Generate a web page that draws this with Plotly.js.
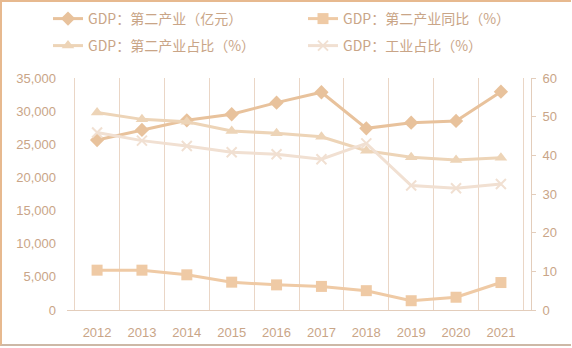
<!DOCTYPE html>
<html><head><meta charset="utf-8">
<script src="https://cdn.plot.ly/plotly-3.0.1.min.js"></script>
<style>
html,body{margin:0;padding:0;background:#fff;}
#wrap{position:relative;width:572px;height:348px;overflow:hidden;}
#frame{position:absolute;left:0;top:0;width:571px;height:346px;border-left:2px solid #E7B98F;border-top:2px solid #E7B98F;border-bottom:2px solid #CDB8A6;pointer-events:none;z-index:5;box-sizing:border-box;}
#chart{width:572px;height:348px;}
</style></head>
<body><div id="wrap"><div id="frame"></div><div id="chart"></div></div>
<script>
const years = ['2012','2013','2014','2015','2016','2017','2018','2019','2020','2021'];
const gdpSecondary = [25650,27160,28620,29530,31280,32850,27410,28260,28520,32940];
const secondaryYoY = [10.3,10.3,9.1,7.2,6.5,6.1,5.0,2.4,3.3,7.1];
const secondaryShare = [51.1,49.3,48.7,46.3,45.7,44.8,41.2,39.5,38.8,39.4];
const industryShare = [45.9,43.8,42.4,40.8,40.3,39.0,43.1,32.2,31.5,32.6];
const names = ['GDP：第二产业（亿元）','GDP：第二产业同比（%）','GDP：第二产业占比（%）','GDP：工业占比（%）'];

const font = 'Liberation Sans, Arial, "Noto Sans CJK SC", sans-serif';
const legendFont = '"Noto Sans CJK SC", sans-serif';
const labelColor = '#C9A587';
const traces = [
  {x:years,y:gdpSecondary,name:names[0],type:'scatter',mode:'lines+markers',yaxis:'y',legend:'legend',
   line:{color:'#E8C29C',width:3},marker:{symbol:'diamond',size:11,color:'#E8C29C'}},
  {x:years,y:secondaryYoY,name:names[1],type:'scatter',mode:'lines+markers',yaxis:'y2',legend:'legend2',
   line:{color:'#EFCAA5',width:3},marker:{symbol:'square',size:11,color:'#EFCAA5'}},
  {x:years,y:secondaryShare,name:names[2],type:'scatter',mode:'lines+markers',yaxis:'y2',legend:'legend3',
   line:{color:'#EDD4B7',width:3},marker:{symbol:'triangle-up',size:11,color:'#EDD4B7'}},
  {x:years,y:industryShare,name:names[3],type:'scatter',mode:'lines+markers',yaxis:'y2',legend:'legend4',
   line:{color:'#F1E0D2',width:3},marker:{symbol:'x-thin-open',size:10,color:'#F1E0D2',line:{width:2,color:'#F1E0D2'}}}
];
function leg(px, py){
  return {orientation:'v',xref:'container',yref:'container',x:px/572,y:1-py/348,xanchor:'left',yanchor:'middle',
    font:{family:legendFont,size:14,color:labelColor},bgcolor:'rgba(0,0,0,0)',itemwidth:30,borderwidth:0};
}
const layout = {
  width:572,height:348,margin:{l:67,r:41,t:78,b:38,autoexpand:false},
  paper_bgcolor:'#fff',plot_bgcolor:'#fff',
  font:{family:font,size:12,color:labelColor},
  showlegend:true,
  legend:leg(48,19), legend2:leg(303,19), legend3:leg(48,46), legend4:leg(303,46),
  xaxis:{type:'category',tickson:'boundaries',showgrid:true,gridcolor:'#EAD6C6',gridwidth:1,automargin:false,
    showline:true,linecolor:'#E3CDBB',ticks:'',ticklabelstandoff:10,tickfont:{size:13,color:labelColor},zeroline:false},
  yaxis:{range:[0,35000],dtick:5000,tickformat:',',showgrid:false,zeroline:false,showline:false,automargin:false,
    ticks:'',ticklabelstandoff:10,tickfont:{size:13,color:labelColor}},
  yaxis2:{range:[0,60],dtick:10,overlaying:'y',side:'right',showgrid:false,zeroline:false,automargin:false,
    showline:true,linecolor:'#E3CDBB',ticks:'outside',ticklen:4,tickcolor:'#E3CDBB',ticklabelstandoff:4,tickfont:{size:13,color:labelColor}}
};
Plotly.newPlot('chart',traces,layout,{displayModeBar:false,staticPlot:true});
</script></body></html>
